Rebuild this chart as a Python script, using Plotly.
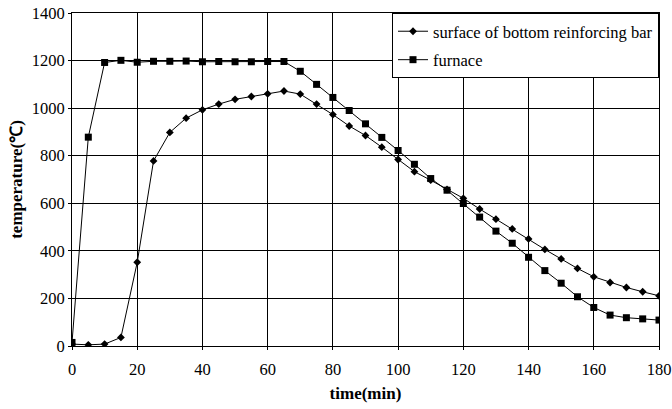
import plotly.graph_objects as go

time_min = list(range(0, 185, 5))

bar_temp = [8, 5, 8, 36, 352, 778, 898, 958, 993, 1017, 1037, 1049, 1060, 1072,
            1059, 1017, 973, 925, 885, 836, 784, 733, 697, 658, 621, 576, 533,
            492, 450, 406, 366, 326, 291, 267, 246, 228, 211]

furnace_temp = [15, 878, 1192, 1201, 1193, 1197, 1197, 1198, 1195, 1196, 1195,
                1195, 1196, 1196, 1155, 1100, 1045, 990, 934, 877, 822, 764,
                704, 655, 599, 542, 483, 432, 373, 317, 264, 207, 162, 130,
                119, 114, 109]

x_ticks = [0, 20, 40, 60, 80, 100, 120, 140, 160, 180]
y_ticks = [0, 200, 400, 600, 800, 1000, 1200, 1400]

FONT = "Liberation Serif"

fig = go.Figure()
fig.add_trace(go.Scatter(
    x=time_min, y=bar_temp, mode="lines+markers",
    name="surface of bottom reinforcing bar",
    line=dict(color="black", width=1),
    marker=dict(symbol="diamond", size=6, color="black"),
    legendgroup="a",
))
fig.add_trace(go.Scatter(
    x=time_min, y=furnace_temp, mode="lines+markers",
    name="furnace",
    line=dict(color="black", width=1),
    marker=dict(symbol="square", size=7, color="black"),
    legendgroup="b",
))

fig.update_layout(
    width=672, height=409,
    margin=dict(l=72, r=13, t=13, b=63),
    paper_bgcolor="white", plot_bgcolor="white",
    font=dict(family=FONT, color="black", size=16),
    showlegend=True,
    legend=dict(
        x=1, y=1, xanchor="right", yanchor="top",
        bgcolor="white", bordercolor="black", borderwidth=1,
        font=dict(family=FONT, size=16.5, color="black"),
        tracegroupgap=4, traceorder="grouped",
        itemwidth=30,
    ),
    xaxis=dict(
        range=[0, 180], tickmode="array", tickvals=x_ticks,
        showgrid=True, gridcolor="black", gridwidth=1,
        showline=True, linecolor="black", linewidth=1, mirror=True,
        ticks="outside", ticklen=3, tickcolor="black",
        ticklabelstandoff=5,
        zeroline=False, automargin=False,
        tickfont=dict(family=FONT, size=16.5),
        title=dict(text="<b>time(min)</b>", font=dict(family=FONT, size=17), standoff=9),
    ),
    yaxis=dict(
        range=[0, 1400], tickmode="array", tickvals=y_ticks,
        showgrid=True, gridcolor="black", gridwidth=1,
        showline=True, linecolor="black", linewidth=1, mirror=True,
        ticks="outside", ticklen=3, tickcolor="black",
        zeroline=False, automargin=False,
        tickfont=dict(family=FONT, size=16.5),
        title=dict(text="<b>temperature(℃)</b>", font=dict(family=FONT, size=17), standoff=4),
    ),
)

fig.write_html("out.html")
